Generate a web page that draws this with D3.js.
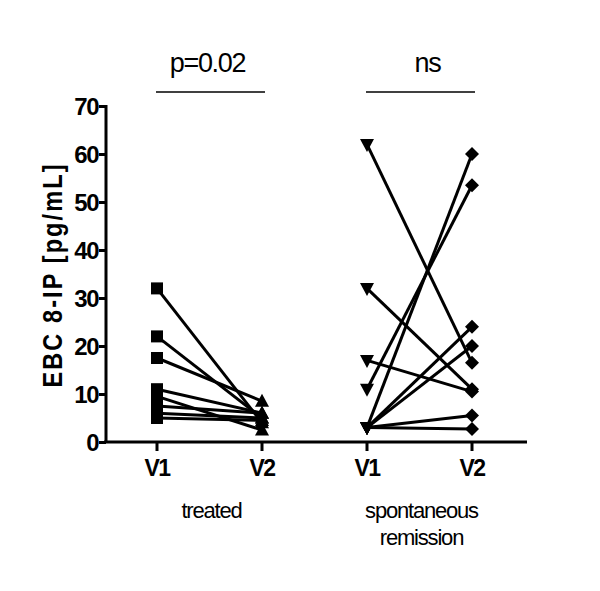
<!DOCTYPE html>
<html>
<head>
<meta charset="utf-8">
<script src="https://cdn.jsdelivr.net/npm/d3@7"></script>
<style>
  body { margin: 0; background: #fff; }
  text { font-family: "Liberation Sans", Arial, sans-serif; }
</style>
</head>
<body>
<svg id="chart" width="600" height="591"></svg>
<script>
// paired values
const visits = ["V1", "V2"];
const treatedV1 = [32, 22, 17.5, 11, 9.5, 7.5, 6, 5];
const treatedV2 = [4, 5, 8.5, 6, 2.5, 6, 5, 4.5];
const spontV1 = [62, 32, 17, 11, 3, 3, 3, 3, 3];
const spontV2 = [16.5, 11, 10.5, 53.5, 60, 24, 20, 5.5, 2.7];
const groupNames = [["treated"], ["spontaneous", "remission"]];
const groupStats = ["p=0.02", "ns"];
const yTicks = [0, 10, 20, 30, 40, 50, 60, 70];

const svg = d3.select("#chart");

const y = d3.scaleLinear().domain([0, 70]).range([442, 106]);
// one band per group, a point per visit inside it
const group = d3.scaleBand().domain([0, 1]).range([103, 523]).paddingInner(0);
const x = d3.scalePoint().domain(visits).range([0, 105]);
const gx = i => group(i) + 54;

// y axis
const yAxis = svg.append("g")
  .attr("transform", "translate(106,0)")
  .call(d3.axisLeft(y).tickValues(yTicks).tickSize(7).tickPadding(1));
yAxis.select(".domain").attr("stroke-width", 3).attr("d", "M0,442V105");
yAxis.selectAll(".tick line").attr("stroke-width", 3);
yAxis.selectAll(".tick text")
  .attr("font-size", 24).attr("font-weight", "bold").attr("fill", "#000")
  .attr("letter-spacing", -1.5).attr("dy", "0.36em");

// x axis line
svg.append("line")
  .attr("x1", 104).attr("x2", 527).attr("y1", 442).attr("y2", 442)
  .attr("stroke", "#000").attr("stroke-width", 3);

svg.append("text")
  .attr("transform", "translate(62,275) rotate(-90) scale(0.84,1)")
  .attr("text-anchor", "middle")
  .attr("font-size", 28).attr("font-weight", "bold")
  .attr("letter-spacing", 2.5)
  .text("EBC 8-IP [pg/mL]");

const groups = [
  { v1: treatedV1, v2: treatedV2, m1: "square", m2: "up" },
  { v1: spontV1, v2: spontV2, m1: "down", m2: "diamond" }
];

function marker(g, type, cx, cy) {
  if (type === "square") {
    g.append("rect").attr("x", cx - 6).attr("y", cy - 6)
      .attr("width", 12).attr("height", 12).attr("fill", "#000");
  } else if (type === "up") {
    g.append("path").attr("d", `M${cx},${cy - 7.5}L${cx + 7},${cy + 5.5}L${cx - 7},${cy + 5.5}Z`).attr("fill", "#000");
  } else if (type === "down") {
    g.append("path").attr("d", `M${cx},${cy + 7.5}L${cx + 7},${cy - 5.5}L${cx - 7},${cy - 5.5}Z`).attr("fill", "#000");
  } else {
    g.append("path").attr("d", `M${cx},${cy - 7}L${cx + 7},${cy}L${cx},${cy + 7}L${cx - 7},${cy}Z`).attr("fill", "#000");
  }
}

groups.forEach((gr, i) => {
  const g = svg.append("g");
  const x1 = gx(i) + x("V1"), x2 = gx(i) + x("V2");

  // x ticks and labels
  visits.forEach(v => {
    g.append("line").attr("x1", gx(i) + x(v)).attr("x2", gx(i) + x(v))
      .attr("y1", 442).attr("y2", 451).attr("stroke", "#000").attr("stroke-width", 3);
    g.append("text").attr("x", gx(i) + x(v)).attr("y", 476)
      .attr("text-anchor", "middle").attr("font-size", 23).attr("font-weight", "bold")
      .attr("letter-spacing", -1.5)
      .text(v);
  });

  // pairs
  gr.v1.forEach((a, k) => {
    g.append("line")
      .attr("x1", x1).attr("y1", y(a)).attr("x2", x2).attr("y2", y(gr.v2[k]))
      .attr("stroke", "#000").attr("stroke-width", 3);
  });
  gr.v1.forEach(a => marker(g, gr.m1, x1, y(a)));
  gr.v2.forEach(b => marker(g, gr.m2, x2, y(b)));

  // group name
  groupNames[i].forEach((t, j) => {
    g.append("text").attr("x", (x1 + x2) / 2 + 2).attr("y", 518 + j * 27)
      .attr("text-anchor", "middle").attr("font-size", 22).attr("letter-spacing", -1.2)
      .text(t);
  });

  // significance bar
  g.append("line").attr("x1", x1 - 1).attr("x2", x2 + 3).attr("y1", 92).attr("y2", 92)
    .attr("stroke", "#000").attr("stroke-width", 1.5);
  g.append("text").attr("x", (x1 + x2) / 2 + (i ? 8 : -2)).attr("y", 72)
    .attr("text-anchor", "middle").attr("font-size", 27).attr("letter-spacing", -1.3)
    .text(groupStats[i]);
});
</script>
</body>
</html>
